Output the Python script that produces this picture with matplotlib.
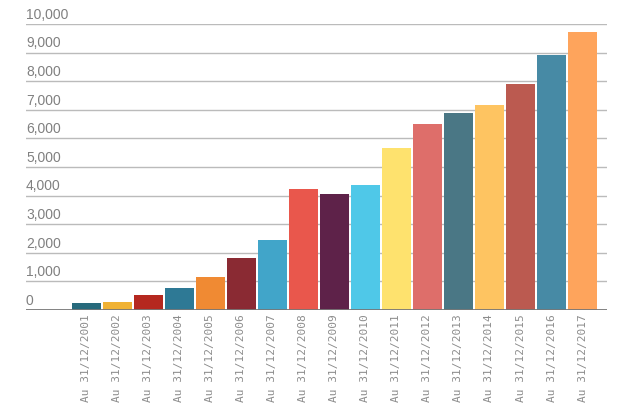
import matplotlib.pyplot as plt
import numpy as np

years = list(range(2001, 2018))
labels = ["Au 31/12/%d" % y for y in years]
values = [240, 280, 535, 770, 1165, 1818, 2458, 4231, 4056, 4370,
          5664, 6503, 6888, 7168, 7902, 8916, 9730]
colors = ["#276a7c", "#f0b234", "#b5281f", "#2e7995", "#f08a33", "#8a2a33",
          "#41a5c9", "#e9574c", "#5e2249", "#4fc8e8", "#fee26e", "#de6e6a",
          "#4a7785", "#fec461", "#bb5a50", "#478aa5", "#fea45c"]
yticks = list(range(0, 10001, 1000))

fig = plt.figure(figsize=(6.36, 4.10), dpi=100)
ax = fig.add_axes([26 / 636, 1 - 311 / 410, 581 / 636, 286 / 410])

x = np.arange(len(values))
ax.bar(x, values, width=0.935, color=colors, zorder=2)

ax.set_xlim(-1.95, 16.79)
ax.set_ylim(0, 10000)

# gridlines, labels sit just above each line
for v in yticks:
    if v > 0:
        ax.axhline(v, color="#bbbbbb", linewidth=1, zorder=1)
    ax.text(0.0, v + 360, "{:,}".format(v), transform=ax.get_yaxis_transform(),
            ha="left", va="center", fontsize=10, color="#808080",
            family="Liberation Sans")
ax.axhline(0, color="#777777", linewidth=2, zorder=3)

ax.set_yticks([])
ax.set_xticks(x)
ax.set_xticklabels(labels, rotation=90, fontsize=8, color="#8c8c8c",
                   family="DejaVu Sans Mono", va="top")
ax.tick_params(axis="x", length=0, pad=2)
for s in ax.spines.values():
    s.set_visible(False)

fig.savefig("out.png", dpi=100)
